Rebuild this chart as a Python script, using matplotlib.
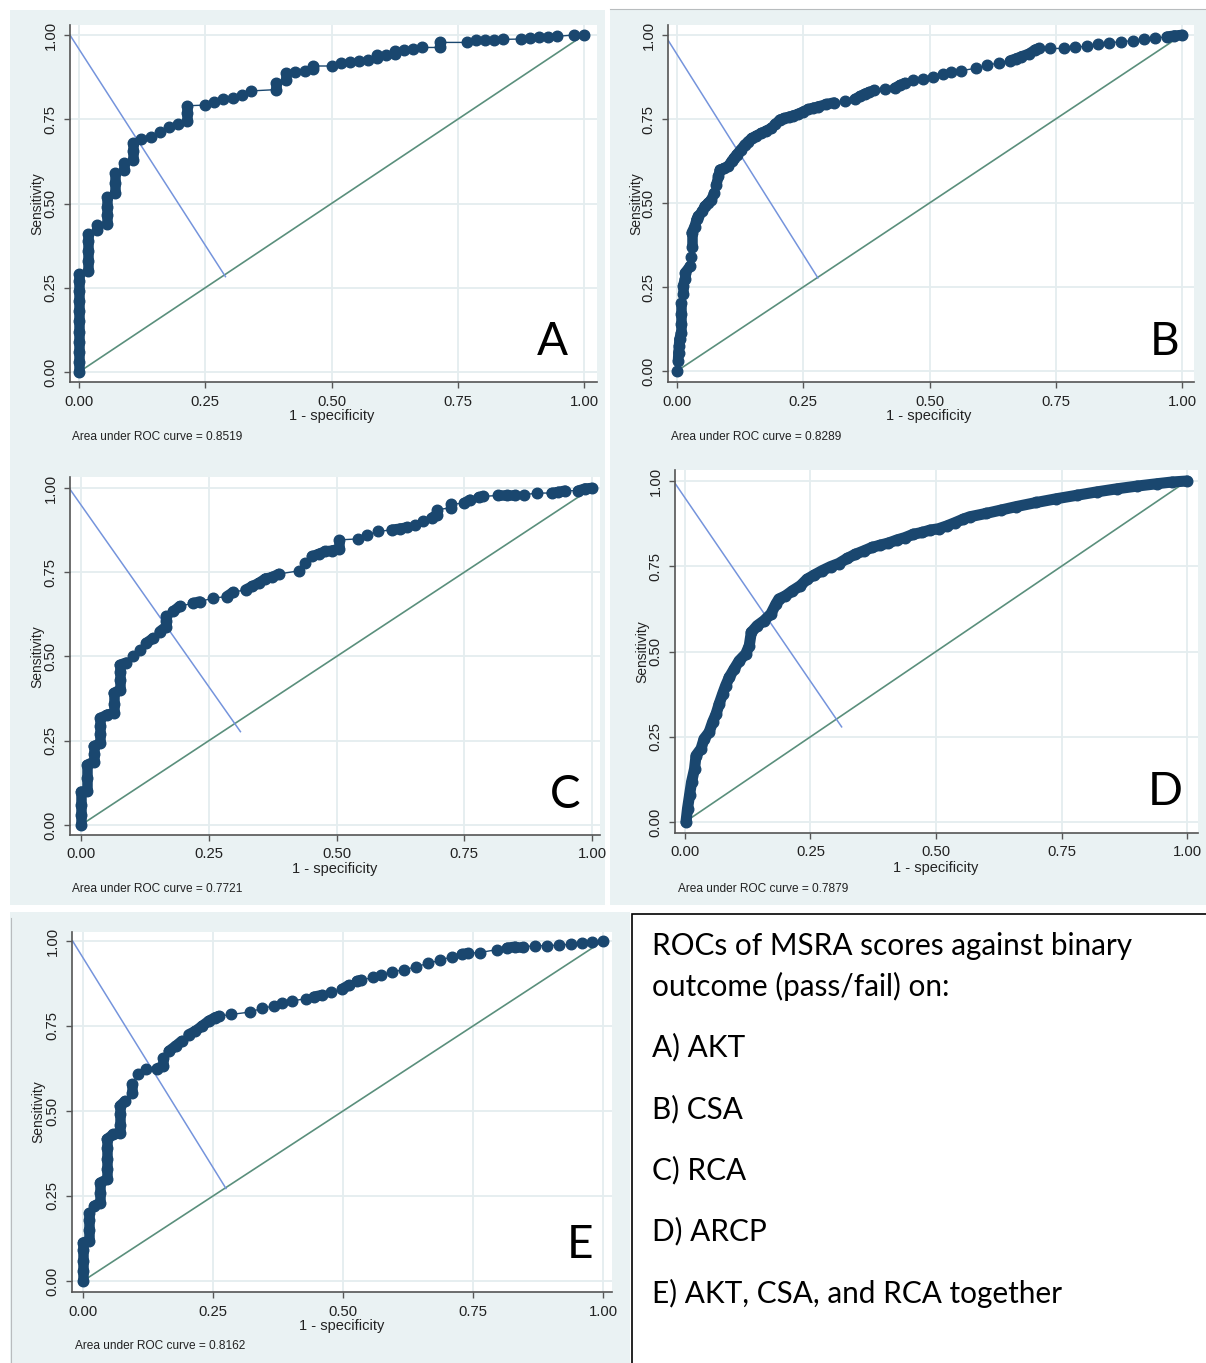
import matplotlib
matplotlib.use("Agg")
import numpy as np
import matplotlib.pyplot as plt
from matplotlib.patches import Rectangle
from matplotlib.collections import LineCollection

W, H = 1206, 1363

# ROC curve points (1 - specificity, sensitivity)
a_fpr = [0, 0, 0, 0, 0, 0, 0, 0, 0, 0, 0,
         0.018, 0.018, 0.018, 0.018, 0.018, 0.035, 0.035,
         0.055, 0.055, 0.055, 0.055, 0.071, 0.071, 0.071, 0.089, 0.089,
         0.107, 0.107, 0.107, 0.123, 0.142, 0.160, 0.179, 0.197,
         0.214, 0.214, 0.214, 0.25, 0.267, 0.286, 0.304, 0.322, 0.340,
         0.391, 0.391, 0.41, 0.41, 0.428, 0.447, 0.464, 0.464,
         0.50, 0.518, 0.537, 0.554, 0.573, 0.591, 0.591, 0.608, 0.626, 0.626,
         0.644, 0.662, 0.680, 0.715, 0.715, 0.768, 0.786, 0.804, 0.822, 0.839,
         0.875, 0.893, 0.911, 0.929, 0.946, 0.980, 1.0]
a_tpr = [0, 0.03, 0.06, 0.09, 0.12, 0.15, 0.18, 0.21, 0.24, 0.27, 0.29,
         0.30, 0.33, 0.36, 0.39, 0.41, 0.42, 0.435,
         0.44, 0.465, 0.49, 0.52, 0.53, 0.56, 0.59, 0.60, 0.62,
         0.63, 0.655, 0.68, 0.69, 0.698, 0.713, 0.726, 0.735,
         0.745, 0.77, 0.79, 0.792, 0.802, 0.809, 0.814, 0.822, 0.834,
         0.838, 0.858, 0.865, 0.887, 0.889, 0.894, 0.898, 0.908,
         0.908, 0.916, 0.921, 0.924, 0.926, 0.932, 0.94, 0.94, 0.944, 0.953,
         0.955, 0.958, 0.963, 0.963, 0.978, 0.978, 0.984, 0.985, 0.985, 0.987,
         0.988, 0.99, 0.994, 0.995, 0.996, 1.0, 1.0]

b_fpr = [0, 0.002, 0.003, 0.004, 0.005, 0.008, 0.008, 0.008, 0.008, 0.012, 0.012,
         0.016, 0.016, 0.026, 0.028, 0.029, 0.029, 0.035, 0.039, 0.042, 0.05,
         0.055, 0.062, 0.068, 0.074, 0.078, 0.082, 0.085, 0.093, 0.101, 0.108,
         0.113, 0.118, 0.126, 0.134, 0.141, 0.148, 0.157, 0.167, 0.177, 0.187,
         0.195, 0.204, 0.212, 0.221, 0.230, 0.240, 0.250, 0.260, 0.270, 0.280,
         0.296, 0.311, 0.332, 0.352, 0.362, 0.372, 0.381, 0.391, 0.411, 0.431,
         0.441, 0.451, 0.467, 0.487, 0.507, 0.526, 0.543, 0.563, 0.592, 0.614,
         0.637, 0.660, 0.672, 0.682, 0.697, 0.709, 0.716, 0.739, 0.766, 0.788,
         0.811, 0.834, 0.856, 0.879, 0.902, 0.924, 0.947, 0.970, 0.985, 1.0]
b_tpr = [0, 0.03, 0.055, 0.075, 0.094, 0.114, 0.14, 0.17, 0.203, 0.23, 0.252,
         0.275, 0.292, 0.312, 0.34, 0.37, 0.411, 0.43, 0.451, 0.46, 0.475,
         0.49, 0.50, 0.51, 0.53, 0.555, 0.579, 0.599, 0.603, 0.609, 0.624,
         0.634, 0.644, 0.658, 0.673, 0.683, 0.693, 0.70, 0.708, 0.715, 0.723,
         0.735, 0.748, 0.752, 0.756, 0.76, 0.765, 0.772, 0.779, 0.783, 0.787,
         0.794, 0.799, 0.804, 0.809, 0.817, 0.825, 0.83, 0.835, 0.84, 0.842,
         0.85, 0.857, 0.866, 0.868, 0.874, 0.884, 0.891, 0.894, 0.901, 0.911,
         0.916, 0.924, 0.93, 0.936, 0.944, 0.956, 0.96, 0.96, 0.96, 0.963,
         0.967, 0.973, 0.977, 0.98, 0.983, 0.987, 0.99, 0.995, 0.998, 1.0]

c_fpr = [0, 0, 0, 0, 0.012, 0.012, 0.012, 0.025, 0.025, 0.025,
         0.038, 0.038, 0.038, 0.038, 0.051, 0.064, 0.064, 0.064,
         0.076, 0.076, 0.076, 0.076, 0.089, 0.102, 0.115, 0.128, 0.141, 0.154,
         0.167, 0.167, 0.167, 0.181, 0.193, 0.219, 0.232, 0.258, 0.285, 0.298,
         0.322, 0.335, 0.348, 0.361, 0.374, 0.387, 0.426, 0.439, 0.452, 0.465,
         0.478, 0.492, 0.505, 0.505, 0.543, 0.559, 0.582, 0.608, 0.624, 0.638,
         0.654, 0.670, 0.686, 0.697, 0.697, 0.724, 0.724, 0.750, 0.761, 0.778,
         0.787, 0.817, 0.833, 0.849, 0.867, 0.893, 0.921, 0.934, 0.947, 0.973,
         0.986, 1.0]
c_tpr = [0, 0.03, 0.06, 0.099, 0.10, 0.14, 0.178, 0.188, 0.21, 0.233,
         0.243, 0.27, 0.295, 0.317, 0.327, 0.332, 0.36, 0.391,
         0.401, 0.43, 0.455, 0.475, 0.482, 0.50, 0.52, 0.54, 0.554, 0.574,
         0.589, 0.605, 0.62, 0.634, 0.649, 0.658, 0.663, 0.673, 0.678, 0.691,
         0.698, 0.708, 0.718, 0.731, 0.735, 0.745, 0.754, 0.777, 0.797, 0.804,
         0.812, 0.814, 0.82, 0.846, 0.849, 0.861, 0.871, 0.876, 0.879, 0.883,
         0.891, 0.901, 0.911, 0.921, 0.936, 0.941, 0.952, 0.955, 0.965, 0.972,
         0.975, 0.978, 0.978, 0.978, 0.98, 0.985, 0.985, 0.988, 0.992, 0.992,
         0.998, 1.0]

d_fpr = [0.002, 0.005, 0.009, 0.013, 0.019, 0.022, 0.032, 0.038, 0.048, 0.055,
         0.062, 0.068, 0.075, 0.081, 0.088, 0.098, 0.108, 0.121, 0.128, 0.132,
         0.144, 0.157, 0.171, 0.181, 0.187, 0.20, 0.214, 0.230, 0.243, 0.257,
         0.273, 0.290, 0.306, 0.323, 0.339, 0.356, 0.372, 0.389, 0.405, 0.422,
         0.438, 0.455, 0.472, 0.488, 0.505, 0.521, 0.538, 0.554, 0.567, 0.60,
         0.63, 0.66, 0.70, 0.74, 0.78, 0.82, 0.86, 0.90, 0.94, 0.97, 1.0]
d_tpr = [0, 0.039, 0.078, 0.117, 0.156, 0.195, 0.215, 0.244, 0.263, 0.293,
         0.317, 0.346, 0.376, 0.40, 0.424, 0.449, 0.473, 0.493, 0.517, 0.556,
         0.576, 0.590, 0.610, 0.639, 0.654, 0.663, 0.678, 0.693, 0.712, 0.724,
         0.737, 0.749, 0.758, 0.773, 0.785, 0.795, 0.805, 0.812, 0.818, 0.827,
         0.834, 0.844, 0.849, 0.856, 0.860, 0.868, 0.878, 0.888, 0.895, 0.905,
         0.915, 0.925, 0.937, 0.948, 0.958, 0.968, 0.977, 0.985, 0.992, 0.997, 1.0]

e_fpr = [0, 0, 0, 0, 0, 0.011, 0.011, 0.011, 0.011, 0.022, 0.033, 0.033, 0.033,
         0.046, 0.046, 0.046, 0.046, 0.046, 0.058, 0.071, 0.071, 0.071, 0.071,
         0.081, 0.094, 0.094, 0.105, 0.122, 0.142, 0.154, 0.154, 0.165, 0.178,
         0.190, 0.203, 0.216, 0.229, 0.242, 0.254, 0.261, 0.285, 0.321, 0.344,
         0.367, 0.383, 0.402, 0.428, 0.444, 0.460, 0.476, 0.498, 0.511, 0.527,
         0.535, 0.557, 0.573, 0.595, 0.618, 0.641, 0.664, 0.687, 0.710, 0.729,
         0.740, 0.763, 0.797, 0.816, 0.831, 0.846, 0.869, 0.892, 0.915, 0.938,
         0.960, 0.979, 1.0]
e_tpr = [0, 0.03, 0.06, 0.09, 0.113, 0.118, 0.15, 0.18, 0.201, 0.221, 0.23, 0.26, 0.289,
         0.299, 0.33, 0.36, 0.39, 0.417, 0.431, 0.436, 0.46, 0.49, 0.515,
         0.529, 0.554, 0.578, 0.608, 0.623, 0.625, 0.632, 0.657, 0.676, 0.691,
         0.706, 0.725, 0.735, 0.75, 0.765, 0.775, 0.779, 0.784, 0.791, 0.802,
         0.809, 0.817, 0.824, 0.83, 0.836, 0.841, 0.85, 0.858, 0.87, 0.882,
         0.885, 0.893, 0.90, 0.91, 0.915, 0.925, 0.934, 0.944, 0.954, 0.961,
         0.964, 0.966, 0.975, 0.98, 0.983, 0.983, 0.986, 0.986, 0.988, 0.99,
         0.993, 0.996, 1.0]

# blue line from the top-left corner to the diagonal
a_cut = ([-0.018, 0.29], [1.0, 0.283])
b_cut = ([-0.02, 0.279], [0.99, 0.277])
c_cut = ([-0.021, 0.312], [0.995, 0.277])
d_cut = ([-0.023, 0.312], [1.0, 0.279])
e_cut = ([-0.02, 0.275], [1.0, 0.272])

letters = ["A", "B", "C", "D", "E"]
auc_values = ["0.8519", "0.8289", "0.7721", "0.7879", "0.8162"]
ticks = [0, 0.25, 0.5, 0.75, 1.0]

caption = ["ROCs of MSRA scores against binary", "outcome (pass/fail) on:",
           "A) AKT", "B) CSA", "C) RCA", "D) ARCP", "E) AKT, CSA, and RCA together"]

NAVY = "#1a476f"
BG = "#eaf2f3"
GRID = "#e4edef"
DIAG = "#5a8f7c"
CUT = "#7594dc"
STATA_FONT = ["Liberation Sans", "DejaVu Sans"]
CAL_FONT = ["Lato", "DejaVu Sans"]
MS = 7.6  # marker size in points

fig = plt.figure(figsize=(W / 100, H / 100), dpi=100)


def fx(x):
    return x / W


def fy(y):
    return 1 - y / H


# panel backgrounds (pixel boxes: left, top, right, bottom)
for l, t, r, b in [(10, 10, 605, 905), (610, 10, 1206, 905), (10, 912, 630, 1363)]:
    fig.patches.append(Rectangle((fx(l), fy(b)), (r - l) / W, (b - t) / H,
                                 transform=fig.transFigure, facecolor=BG,
                                 edgecolor="none", zorder=-2))
# caption box
fig.patches.append(Rectangle((fx(632), fy(1366)), (1210 - 632) / W, (1366 - 914) / H,
                             transform=fig.transFigure, facecolor="white",
                             edgecolor="black", lw=1.2, zorder=-2))
# faint screenshot edges
fig.lines.append(plt.Line2D([fx(610), fx(1206)], [fy(9), fy(9)], transform=fig.transFigure,
                            color="#b8bcbe", lw=0.8))
fig.lines.append(plt.Line2D([fx(11), fx(11)], [fy(918), fy(1363)], transform=fig.transFigure,
                            color="#b8bcbe", lw=0.8))

# per panel layout: plot box (L, T, R, B), data 0/1 pixel positions (x0, x1, y0, y1),
# label anchors: xlabel, ylabel, auc text, letter
panels = [
    dict(box=(70, 25, 597, 382), cal=(79, 584, 372, 35), xl=(332, 416), yl=(37, 204),
         auc=(72, 437), let=(552, 342), fpr=a_fpr, tpr=a_tpr, cut=a_cut),
    dict(box=(668, 25, 1194, 382), cal=(677, 1182, 371, 35), xl=(929, 416), yl=(636, 204),
         auc=(671, 437), let=(1165, 342), fpr=b_fpr, tpr=b_tpr, cut=b_cut),
    dict(box=(70, 477, 600, 835), cal=(81, 592, 825, 488), xl=(335, 869), yl=(37, 657),
         auc=(72, 889), let=(565, 795), fpr=c_fpr, tpr=c_tpr, cut=c_cut),
    dict(box=(675, 470, 1198, 833), cal=(685, 1187, 822, 481), xl=(936, 868), yl=(642, 652),
         auc=(678, 889), let=(1165, 792), fpr=d_fpr, tpr=d_tpr, cut=d_cut, dense=True),
    dict(box=(72, 932, 612, 1292), cal=(83, 603, 1281, 941), xl=(342, 1326), yl=(38, 1112),
         auc=(75, 1346), let=(580, 1245), fpr=e_fpr, tpr=e_tpr, cut=e_cut),
]

for i, p in enumerate(panels):
    L, T, R, B = p["box"]
    x0, x1, y0, y1 = p["cal"]
    ax = fig.add_axes([fx(L), fy(B), (R - L) / W, (B - T) / H], zorder=2)
    sx = x1 - x0
    sy = y0 - y1
    ax.set_xlim((L - x0) / sx, (R - x0) / sx)
    ax.set_ylim((y0 - B) / sy, (y0 - T) / sy)
    ax.set_facecolor("white")
    for s in ["top", "right"]:
        ax.spines[s].set_visible(False)
    for s in ["left", "bottom"]:
        ax.spines[s].set_color("#555555")
        ax.spines[s].set_linewidth(1.2)
    ax.set_xticks(ticks)
    ax.set_yticks(ticks)
    ax.set_xticklabels(["%.2f" % t for t in ticks], fontfamily=STATA_FONT, fontsize=10.7)
    ax.set_yticklabels(["%.2f" % t for t in ticks], fontfamily=STATA_FONT, fontsize=10.7,
                       rotation=90, va="center")
    ax.tick_params(length=4, width=1, color="#555555", labelcolor="#222222", pad=5)
    ax.grid(True, color=GRID, lw=1.3)
    ax.set_axisbelow(True)

    ax.plot([0, 1], [0, 1], color=DIAG, lw=1.2, zorder=2)
    ax.plot(p["cut"][0], p["cut"][1], color=CUT, lw=1.1, zorder=2)

    fpr = np.array(p["fpr"])
    tpr = np.array(p["tpr"])
    if p.get("dense"):
        ax.plot(fpr, tpr, color=NAVY, lw=MS * 1.05, solid_capstyle="round",
                solid_joinstyle="round", zorder=3)
    else:
        # stacked markers (tied 1-specificity, or nearly touching) merge into a band
        pts = np.column_stack([fpr * sx, tpr * sy])
        gap = np.hypot(*(pts[1:] - pts[:-1]).T)
        segs = [[(fpr[k], tpr[k]), (fpr[k + 1], tpr[k + 1])]
                for k in range(len(fpr) - 1)
                if fpr[k] == fpr[k + 1] or gap[k] < 8.5]
        ax.add_collection(LineCollection(segs, colors=NAVY, linewidths=MS,
                                         capstyle="round", zorder=3))
    ax.plot(fpr, tpr, color=NAVY, lw=1, marker="o", ms=MS,
            mec=NAVY, mfc=NAVY, zorder=4, clip_on=False)

    fig.text(fx(p["xl"][0]), fy(p["xl"][1]), "1 - specificity", ha="center", va="center",
             fontfamily=STATA_FONT, fontsize=10.5, color="#222222")
    fig.text(fx(p["yl"][0]), fy(p["yl"][1]), "Sensitivity", ha="center", va="center",
             rotation=90, fontfamily=STATA_FONT, fontsize=10, color="#222222")
    fig.text(fx(p["auc"][0]), fy(p["auc"][1]), "Area under ROC curve = " + auc_values[i],
             ha="left", va="center", fontfamily=STATA_FONT, fontsize=8.6, color="#222222")
    ax.text((p["let"][0] - L) / (R - L), (B - p["let"][1]) / (B - T), letters[i],
            transform=ax.transAxes, ha="center", va="center",
            fontfamily=CAL_FONT, fontsize=33, color="black", zorder=5)

cap_y = [946, 986, 1047, 1109, 1170, 1231, 1293]
for line, y in zip(caption, cap_y):
    fig.text(fx(652), fy(y), line, ha="left", va="center", fontfamily=CAL_FONT,
             fontsize=21.4, color="black")

fig.savefig("out.png", dpi=100)
